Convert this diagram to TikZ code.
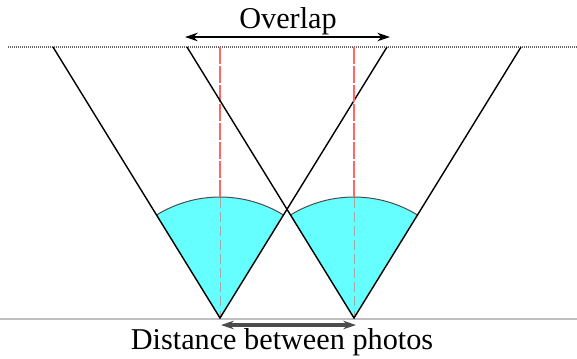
\documentclass[tikz,border=0pt]{standalone}
\usepackage{fontspec}
\setmainfont{Liberation Serif}
\usetikzlibrary{arrows.meta}
\definecolor{fovcyan}{RGB}{102,255,255}

\begin{document}
\begin{tikzpicture}[
  x=0.025cm, y=-0.025cm,
  ray/.style={black, line width=1pt},
  fov/.style={fill=fovcyan},
  rim/.style={black!70, line width=0.7pt},
  axisup/.style={red!60, line width=0.9pt, dash pattern=on 12pt off 1.5pt},
  axisdown/.style={black!35, line width=0.6pt, dash pattern=on 7pt off 3pt},
  horizon/.style={black!60, line width=1.4pt, dash pattern=on 0.7113pt off 0.7113pt},
  ground/.style={black!25, line width=1.6pt},
  span/.style={{Stealth[length=9pt,width=6pt]}-{Stealth[length=9pt,width=6pt]}, line width=1.1pt},
  label/.style={font=\fontsize{21.5}{24}\selectfont, inner sep=0pt}]

  \useasboundingbox (0,0) rectangle (577,358);

  \draw[horizon] (8,47) -- (577,47); % top of the field
  \draw[ground] (0,319) -- (577,319);

  \foreach \c/\xc in {1/220, 2/354} {
    \coordinate (cam\c) at (\xc,318);
    \coordinate (top\c) at (\xc,47);
    \coordinate (left\c) at (\xc-167,47);
    \coordinate (right\c) at (\xc+167,47);
    \coordinate (rim\c) at (\xc,198);
    \fill[fov] (cam\c) -- ++(-121.6:121)
      arc[start angle=-121.6, end angle=-58.4, radius=121] -- cycle;
    \draw[rim] (cam\c) ++(-121.6:121)
      arc[start angle=-121.6, end angle=-58.4, radius=121];
    \draw[axisup] (top\c) -- (rim\c);
    \draw[axisdown] (rim\c) -- (cam\c);
    \draw[ray] (left\c) -- (cam\c) -- (right\c);
  }

  \coordinate (ov-l) at (185,37);
  \coordinate (ov-r) at (390,37);
  \draw[span] (ov-l) -- (ov-r);
  \node[label] (overlap) at (288,21) {Overlap};

  \coordinate (dist-l) at (221,325);
  \coordinate (dist-r) at (356,325);
  \draw[span, black!70, line width=2.4pt] (dist-l) -- (dist-r);
  \node[label] (distance) at (282,342) {Distance between photos};
\end{tikzpicture}
\end{document}
